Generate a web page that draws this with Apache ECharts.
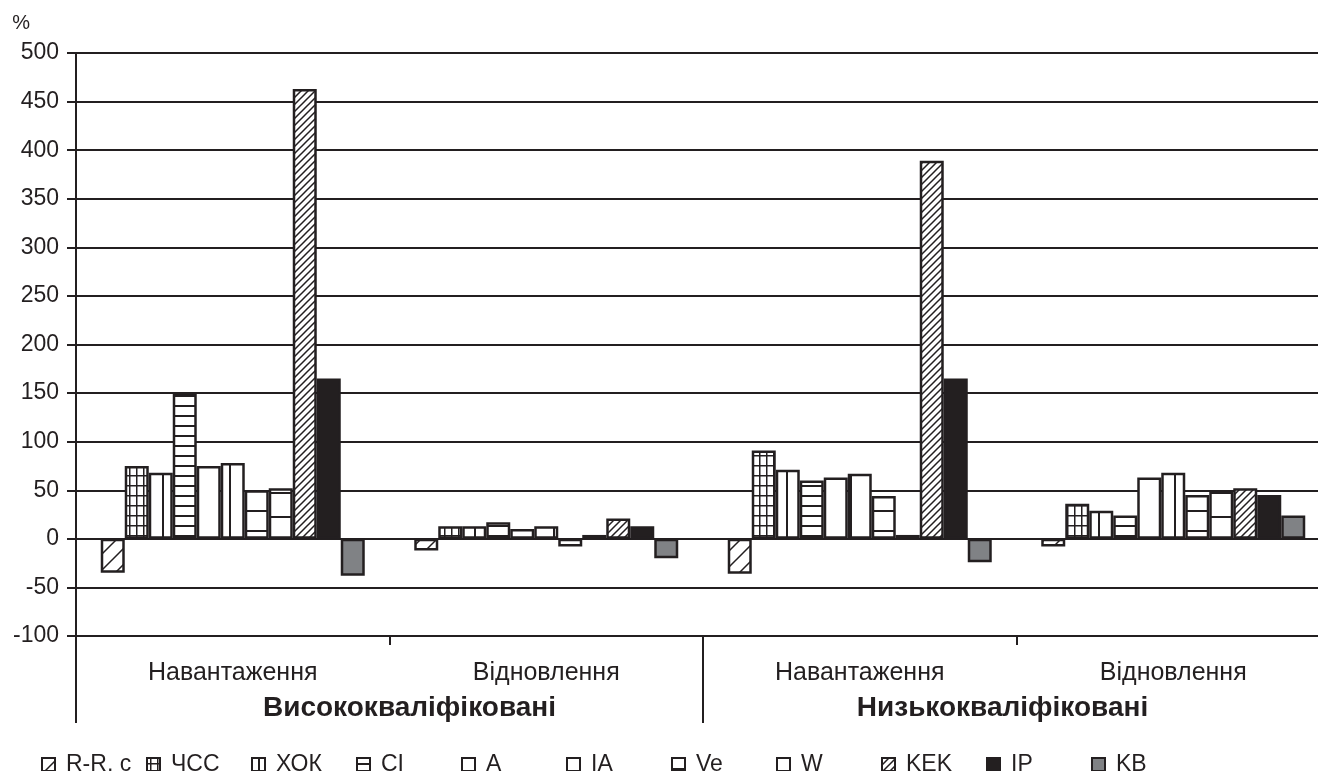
<!DOCTYPE html>
<html>
<head>
<meta charset="utf-8">
<script src="https://cdn.jsdelivr.net/npm/echarts@6/dist/echarts.min.js"></script>
<style>
  html, body { margin: 0; padding: 0; background: #fff; }
  #chart { width: 1318px; height: 771px; }
</style>
</head>
<body>
<div id="chart"></div>
<script>
// групи та етапи
const groups = ['Висококваліфіковані', 'Низькокваліфіковані'];
const stages = ['Навантаження', 'Відновлення'];
const indicators = ['R-R, c', 'ЧСС', 'ХОК', 'CI', 'A', 'IA', 'Ve', 'W', 'KEK', 'IP', 'KB'];

// % зміни: Вис.-Навант., Вис.-Відн., Низ.-Навант., Низ.-Відн.
const rr  = [-35, -12, -36, -8];
const hss = [75, 13, 91, 36];
const hok = [68, 13, 71, 29];
const ci  = [150, 17, 60, 24];
const a   = [75, 10, 63, 63];
const ia  = [78, 13, 67, 68];
const ve  = [50, -8, 44, 45];
const w   = [52, 4, 4, 49];
const kek = [463, 21, 389, 52];
const ip  = [165, 13, 165, 45];
const kb  = [-38, -20, -24, 24];

const yMin = -100, yMax = 500, yStep = 50;

const ink = '#231f20';

// штриховки
function tile(tw, th, draw) {
  const c = document.createElement('canvas');
  c.width = tw; c.height = th;
  const g = c.getContext('2d');
  g.fillStyle = '#fff';
  g.fillRect(0, 0, tw, th);
  g.fillStyle = ink;
  g.strokeStyle = ink;
  draw(g, tw, th);
  return { image: c, repeat: 'repeat' };
}
function diag(s, lw) {
  return tile(s, s, (g) => {
    g.lineWidth = lw;
    g.beginPath();
    g.moveTo(-1, s + 1); g.lineTo(s + 1, -1);
    g.moveTo(-1, 1); g.lineTo(1, -1);
    g.moveTo(s - 1, s + 1); g.lineTo(s + 1, s - 1);
    g.stroke();
  });
}
function vlines(s, lw) { return tile(s, 4, (g) => g.fillRect(Math.floor(s / 2), 0, lw, 4)); }
function hlines(s, lw) { return tile(4, s, (g) => g.fillRect(0, Math.floor(s / 2), 4, lw)); }
function grid(sx, sy, lw) {
  return tile(sx, sy, (g) => {
    g.fillRect(Math.floor(sx / 2), 0, lw, sy);
    g.fillRect(0, Math.floor(sy / 2), sx, lw);
  });
}

const fills = [
  diag(16, 1.5),   // R-R
  grid(7, 10, 1.5),// ЧСС
  vlines(13, 2),   // ХОК
  hlines(10, 2),   // CI
  '#ffffff',       // A
  vlines(27, 2),   // IA
  hlines(20, 2),   // Ve
  hlines(24, 2),   // W
  diag(7, 1.5),    // KEK
  ink,             // IP
  '#808285'        // KB
];
const values = [rr, hss, hok, ci, a, ia, ve, w, kek, ip, kb];

const categories = [];
groups.forEach(gr => stages.forEach(st => categories.push(gr + '|' + st)));

const myChart = echarts.init(document.getElementById('chart'));

const series = indicators.map((name, i) => ({
  name,
  type: 'bar',
  data: values[i],
  barWidth: 24,
  barGap: '0%',
  itemStyle: {
    color: fills[i],
    borderColor: ink,
    borderWidth: 2.5
  }
}));

// легенда: кожен пункт у своїй комірці однакової ширини
const legends = indicators.map((name, i) => ({
  top: 748,
  left: 36 + i * 105,
  icon: 'rect',
  itemWidth: 13,
  itemHeight: 13,
  textStyle: { fontSize: 23, color: ink, padding: [0, 0, 0, 6] },
  data: [name]
}));

myChart.setOption({
  animation: false,
  textStyle: { fontFamily: 'Liberation Sans, Arial, sans-serif', color: ink },
  grid: { left: 76, top: 53, width: 1254, height: 583, outerBoundsMode: 'none' },
  legend: legends,
  xAxis: [
    {
      type: 'category',
      data: categories,
      position: 'bottom',
      axisLine: { show: true, onZero: false, lineStyle: { color: ink, width: 2 } },
      axisTick: { show: true, length: 9, lineStyle: { color: ink, width: 2 } },
      axisLabel: {
        formatter: v => v.split('|')[1],
        fontSize: 25,
        color: ink,
        margin: 25
      }
    },
    {
      type: 'category',
      data: [
        { value: groups[0], textStyle: { padding: [0, 0, 0, 40] } },
        { value: groups[1], textStyle: { padding: [0, 28, 0, 0] } }
      ],
      position: 'bottom',
      axisLine: { show: true, onZero: false, lineStyle: { color: ink, width: 2 } },
      axisTick: { show: true, length: 87, lineStyle: { color: ink, width: 2 } },
      axisLabel: {
        fontSize: 28,
        fontWeight: 'bold',
        color: ink,
        margin: 58
      }
    }
  ],
  yAxis: {
    type: 'value',
    min: yMin,
    max: yMax,
    interval: yStep,
    name: '%',
    nameGap: 20,
    nameTextStyle: { fontSize: 20, color: ink, align: 'right', padding: [0, 46, 0, 0] },
    axisLine: { show: true, lineStyle: { color: ink, width: 2 } },
    axisTick: { show: true, length: 9, lineStyle: { color: ink, width: 2 } },
    axisLabel: { fontSize: 23, color: ink, margin: 17 },
    splitLine: { lineStyle: { color: ink, width: 2 } }
  },
  series
});
</script>
</body>
</html>
